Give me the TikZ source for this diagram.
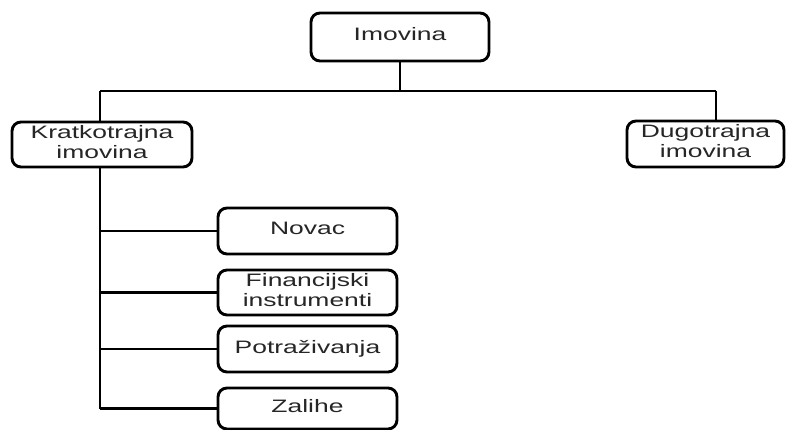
\documentclass[tikz,border=0pt]{standalone}
\usepackage{fontspec}
\setmainfont{Liberation Sans}
\usepackage{graphicx}
\newcommand{\stx}[1]{\scalebox{1.47}[1]{\begin{tabular}{@{}c@{}}#1\end{tabular}}}
\tikzset{
  box/.style={draw=black, line width=2.9pt, rounded corners=9pt, fill=white,
    inner sep=0pt, outer sep=0pt, text=black!85,
    font=\fontsize{18}{20}\selectfont},
  conn/.style={draw=black, line width=2.7pt}
}
\begin{document}
\begin{tikzpicture}[x=1pt,y=1pt]
\useasboundingbox (0,0) rectangle (795,-430);
\node[box, minimum width=178pt, minimum height=48pt] (imo) at (400,-37) {\stx{Imovina}};
\node[box, minimum width=180pt, minimum height=45pt] (kr) at (102,-144.5) {\stx{Kratkotrajna\\imovina}};
\node[box, minimum width=157pt, minimum height=46pt] (du) at (705.5,-144) {\stx{Dugotrajna\\imovina}};
\node[box, minimum width=179pt, minimum height=46pt] (no) at (307.5,-231) {\stx{Novac}};
\node[box, minimum width=179pt, minimum height=45pt] (fi) at (307.5,-292.5) {\stx{Financijski\\instrumenti}};
\node[box, minimum width=179pt, minimum height=46pt] (po) at (307.5,-349) {\stx{Potraživanja}};
\node[box, minimum width=179pt, minimum height=41pt] (za) at (307.5,-408.5) {\stx{Zalihe}};
\coordinate (hl) at (100,-91);
\coordinate (hr) at (716,-91);
\draw[conn] (imo.south) -- (imo.south |- hl);
\draw[conn] (hl) -- (hr);
\draw[conn] (hl) -- (hl |- kr.north);
\draw[conn] (hr) -- (hr |- du.north);
\draw[conn] (kr.south -| hl) -- (hl |- za.west);
\draw[conn] (hl |- no.west) -- (no.west);
\draw[conn] (hl |- fi.west) -- (fi.west);
\draw[conn] (hl |- po.west) -- (po.west);
\draw[conn] (hl |- za.west) -- (za.west);
\end{tikzpicture}
\end{document}
